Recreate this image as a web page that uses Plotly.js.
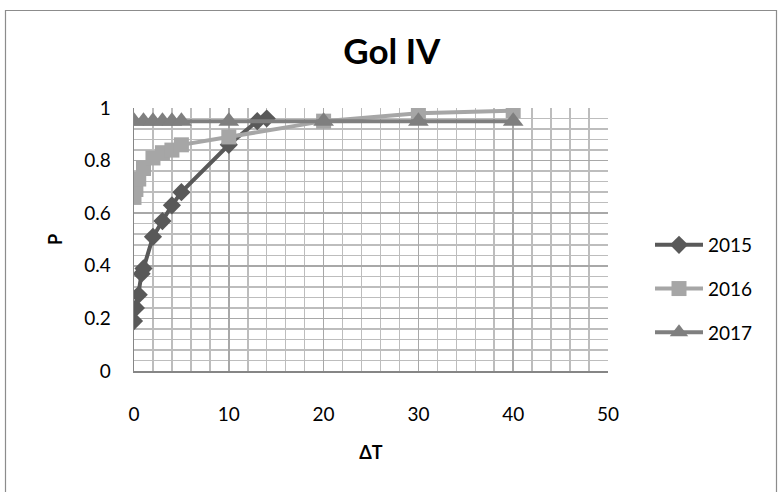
<!DOCTYPE html>
<html>
<head>
<meta charset="utf-8">
<script src="https://cdn.plot.ly/plotly-3.0.1.min.js"></script>
<style>
  html, body { margin: 0; padding: 0; background: #ffffff; }
  #chart { width: 779px; height: 492px; }
</style>
</head>
<body>
<div id="chart"></div>
<script>
// ---- data ----
const x2015 = [0, 0.2, 0.5, 0.8, 1, 2, 3, 4, 5, 10, 13, 14];
const p2015 = [0.19, 0.24, 0.29, 0.37, 0.39, 0.51, 0.57, 0.63, 0.68, 0.86, 0.95, 0.96];

const x2016 = [0, 0.2, 0.5, 1, 2, 3, 4, 5, 10, 20, 30, 40];
const p2016 = [0.66, 0.69, 0.73, 0.77, 0.81, 0.83, 0.84, 0.86, 0.89, 0.95, 0.98, 0.99];

const x2017 = [0, 1, 2, 3, 4, 5, 10, 20, 30, 40];
const p2017 = [0.95, 0.95, 0.95, 0.95, 0.95, 0.95, 0.95, 0.95, 0.95, 0.95];

const seriesNames = ["2015", "2016", "2017"];
const xTickVals = [0, 10, 20, 30, 40, 50];
const yTickVals = [0, 0.2, 0.4, 0.6, 0.8, 1];
const yTickText = ["0", "0.2", "0.4", "0.6", "0.8", "1"];

const FONT = "Lato, 'Open Sans', sans-serif";

const traces = [
  {
    x: x2015, y: p2015, name: seriesNames[0], legendgroup: "a",
    mode: "lines+markers", type: "scatter",
    line: { color: "#595959", width: 4 },
    marker: { symbol: "diamond", size: 14, color: "#595959" }
  },
  {
    x: x2016, y: p2016, name: seriesNames[1], legendgroup: "b",
    mode: "lines+markers", type: "scatter",
    line: { color: "#a6a6a6", width: 4 },
    marker: { symbol: "square", size: 15, color: "#a6a6a6" }
  },
  {
    x: x2017, y: p2017, name: seriesNames[2], legendgroup: "c",
    mode: "lines+markers", type: "scatter",
    line: { color: "#7f7f7f", width: 4 },
    marker: { symbol: "triangle-up", size: 18, color: "#7f7f7f" }
  }
];

// plot area in pixels: x 134..608, y 108..371
const L = 134, R = 608, T = 108, B = 371;
const W = 779, H = 492;
function px2paperX(px) { return (px - L) / (R - L); }
function px2paperY(py) { return (B - py) / (B - T); }

const layout = {
  width: W, height: H,
  margin: { l: L, r: W - R, t: T, b: H - B, pad: 0 },
  paper_bgcolor: "#ffffff",
  plot_bgcolor: "#ffffff",
  font: { family: FONT, color: "#000000", size: 19 },
  showlegend: true,
  title: {
    text: "<b>Gol IV</b>",
    font: { family: FONT, size: 35, color: "#000000" },
    x: 0.503, xanchor: "center",
    y: 1 - 52 / H, yanchor: "middle",
    xref: "container", yref: "container"
  },
  xaxis: {
    range: [0, 50],
    tickvals: xTickVals,
    ticks: "", ticklabelstandoff: 26,
    tickfont: { family: FONT, size: 19, color: "#000000" },
    showgrid: true, gridcolor: "#a8a8a8", gridwidth: 1.5,
    minor: { dtick: 2, showgrid: true, gridcolor: "#bdbdbd", gridwidth: 1.5 },
    showline: true, linecolor: "#868686", linewidth: 1.5,
    zeroline: false,
    fixedrange: true,
    title: { text: "<b>ΔT</b>", font: { family: FONT, size: 18, color: "#000000" }, standoff: 22 }
  },
  yaxis: {
    range: [0, 1],
    tickvals: yTickVals, ticktext: yTickText,
    ticks: "", ticklabelstandoff: 18,
    tickfont: { family: FONT, size: 19, color: "#000000" },
    showgrid: true, gridcolor: "#a8a8a8", gridwidth: 1.5,
    minor: { dtick: 0.04, showgrid: true, gridcolor: "#bdbdbd", gridwidth: 1.5 },
    showline: true, linecolor: "#868686", linewidth: 1.5,
    zeroline: false,
    fixedrange: true,
    title: { text: "<b>P</b>", font: { family: FONT, size: 18, color: "#000000" }, standoff: 17 }
  },
  legend: {
    x: px2paperX(650), xanchor: "left",
    y: px2paperY(226), yanchor: "top",
    font: { family: FONT, size: 19, color: "#000000" },
    itemwidth: 48,
    tracegroupgap: 16,
    traceorder: "grouped",
    bgcolor: "rgba(0,0,0,0)",
    borderwidth: 0
  },
  shapes: [
    {
      type: "rect", xref: "paper", yref: "paper", layer: "below",
      x0: px2paperX(5.5), x1: px2paperX(776.5),
      y0: px2paperY(498), y1: px2paperY(10.5),
      line: { color: "#8c8c8c", width: 1.2 },
      fillcolor: "rgba(0,0,0,0)"
    }
  ]
};

Plotly.newPlot("chart", traces, layout, { displayModeBar: false, staticPlot: true });
</script>
</body>
</html>
